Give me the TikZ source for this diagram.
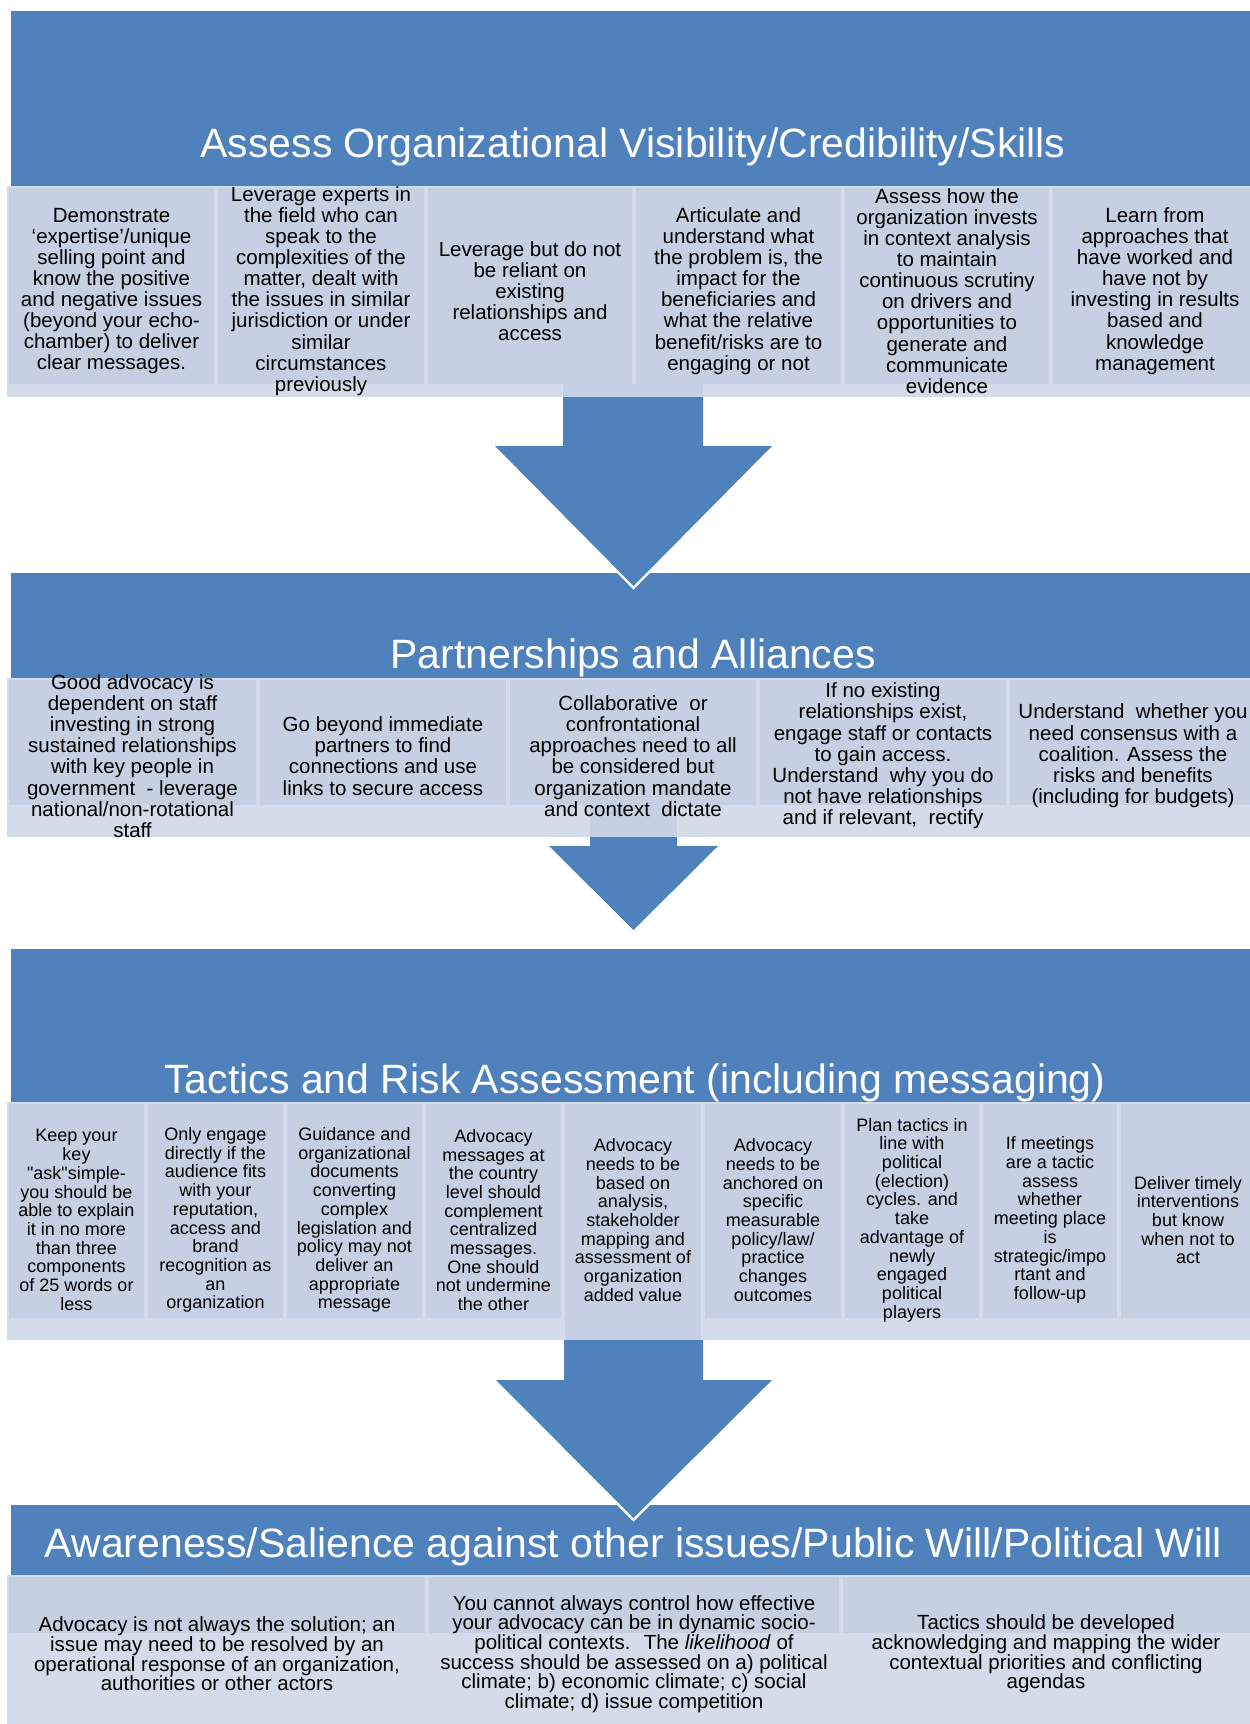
\documentclass[tikz,border=0pt]{standalone}
\usepackage{fontspec}
\setmainfont{Liberation Sans}
\definecolor{hdr}{RGB}{79,129,189}
\definecolor{cellc}{RGB}{197,208,227}
\definecolor{lite}{RGB}{212,219,234}
\begin{document}
\begin{tikzpicture}[x=1pt,y=-1pt,
  titlestyle/.style={text=white, font=\fontsize{41}{44}\selectfont, inner sep=0pt, anchor=base},
  txtA/.style={align=center, font=\fontsize{20.5}{21.1}\selectfont, inner sep=0pt, text=black},
  txtB/.style={align=center, font=\fontsize{20.5}{21.2}\selectfont, inner sep=0pt, text=black},
  txtC/.style={align=center, font=\fontsize{18}{18.7}\selectfont, inner sep=0pt, text=black},
  txtD/.style={align=center, font=\fontsize{20.5}{19.7}\selectfont, inner sep=0pt, text=black},
  arrowfill/.style={fill=hdr},
  arrowedge/.style={draw=white, line width=5pt, line join=miter}]
\useasboundingbox (0,0) rectangle (1250,1724);
\fill[white] (0,0) rectangle (1250,1724);

% ---------- Tier 1 ----------
\fill[hdr] (11,11) rectangle (1250,186);
\fill[lite] (7,186) rectangle (1250,397);
\foreach \l/\r in {7/216,216/426,426/634,634/843,843/1051}
  \fill[cellc] (\l+2,188) rectangle (\r-2,384);
\fill[cellc] (1053,188) rectangle (1250,384);
\fill[cellc] (563,384) rectangle (703,397);
\node[titlestyle] (title1) at (633,157) {Assess Organizational Visibility/Credibility/Skills};
\node[txtA] (a1) at (111.5,291) {Demonstrate\\‘expertise’/unique\\selling point and\\know the positive\\and negative issues\\(beyond your echo-\\chamber) to deliver\\clear messages.};
\node[txtA] (a2) at (321,291) {Leverage experts in\\the field who can\\speak to the\\complexities of the\\matter, dealt with\\the issues in similar\\jurisdiction or under\\similar\\circumstances\\previously};
\node[txtA] (a3) at (530,291) {Leverage but do not\\be reliant on\\existing\\relationships and\\access};
\node[txtA] (a4) at (738.5,291) {Articulate and\\understand what\\the problem is, the\\impact for the\\beneficiaries and\\what the relative\\benefit/risks are to\\engaging or not};
\node[txtA] (a5) at (947,291) {Assess how the\\organization invests\\in context analysis\\to maintain\\continuous scrutiny\\on drivers and\\opportunities to\\generate and\\communicate\\evidence};
\node[txtA] (a6) at (1155,291) {Learn from\\approaches that\\have worked and\\have not by\\investing in results\\based and\\knowledge\\management};

% ---------- Tier 2 ----------
\fill[hdr] (11,573) rectangle (1250,678);
\fill[lite] (7,678) rectangle (1250,837);
\foreach \l/\r in {7/258,258/508,508/758,758/1008}
  \fill[cellc] (\l+2,680) rectangle (\r-2,805);
\fill[cellc] (1010,680) rectangle (1250,805);
\fill[cellc] (590,805) rectangle (677,837);
\node[titlestyle] (title2) at (633,668) {Partnerships and Alliances};
\node[txtB] (b1) at (132.5,756) {Good advocacy is\\dependent on staff\\investing in strong\\sustained relationships\\with key people in\\government~ - leverage\\national/non-rotational\\staff};
\node[txtB] (b2) at (383,756) {Go beyond immediate\\partners to find\\connections and use\\links to secure access};
\node[txtB] (b3) at (633,756) {Collaborative~ or\\confrontational\\approaches need to all\\be considered but\\organization mandate\\and context~ dictate};
\node[txtB] (b4) at (883,756) {If no existing\\relationships exist,\\engage staff or contacts\\to gain access.\\Understand~ why you do\\not have relationships\\and if relevant,~ rectify};
\node[txtB] (b5) at (1133,756) {Understand~ whether you\\need consensus with a\\coalition. Assess the\\risks and benefits\\(including for budgets)};

% ---------- Tier 3 ----------
\fill[hdr] (11,949) rectangle (1250,1102);
\fill[lite] (7,1102) rectangle (1250,1340);
\foreach \l/\r in {7/146,146/285,285/424,424/563,563/703,703/843,843/981,981/1119}
  \fill[cellc] (\l+2,1104) rectangle (\r-2,1318);
\fill[cellc] (1121,1104) rectangle (1250,1318);
\fill[cellc] (565,1318) rectangle (701,1340);
\node[titlestyle] (title3) at (635,1093) {Tactics and Risk Assessment (including messaging)};
\node[txtC] (c1) at (76.5,1220) {Keep your\\key\\\textquotedbl ask\textquotedbl simple-\\you should be\\able to explain\\it in no more\\than three\\components\\of 25 words or\\less};
\node[txtC] (c2) at (215.5,1220) {Only engage\\directly if the\\audience fits\\with your\\reputation,\\access and\\brand\\recognition as\\an\\organization};
\node[txtC] (c3) at (354.5,1220) {Guidance and\\organizational\\documents\\converting\\complex\\legislation and\\policy may not\\deliver an\\appropriate\\message};
\node[txtC] (c4) at (493.5,1220) {Advocacy\\messages at\\the country\\level should\\complement\\centralized\\messages.\\One should\\not undermine\\the other};
\node[txtC] (c5) at (633,1220) {Advocacy\\needs to be\\based on\\analysis,\\stakeholder\\mapping and\\assessment of\\organization\\added value};
\node[txtC] (c6) at (773,1220) {Advocacy\\needs to be\\anchored on\\specific\\measurable\\policy/law/\\practice\\changes\\outcomes};
\node[txtC] (c7) at (912,1220) {Plan tactics in\\line with\\political\\(election)\\cycles. and\\take\\advantage of\\newly\\engaged\\political\\players};
\node[txtC] (c8) at (1050,1220) {If meetings\\are a tactic\\assess\\whether\\meeting place\\is\\strategic/impo\\rtant and\\follow-up};
\node[txtC] (c9) at (1188,1220) {Deliver timely\\interventions\\but know\\when not to\\act};

% ---------- Tier 4 ----------
\fill[hdr] (11,1505) rectangle (1250,1575);
\fill[lite] (7,1575) rectangle (1250,1724);
\foreach \l/\r in {7/427,427/841}
  \fill[cellc] (\l+2,1577) rectangle (\r-2,1633);
\fill[cellc] (843,1577) rectangle (1250,1633);
\node[titlestyle] (title4) at (633.5,1557) {Awareness/Salience against other issues/Public Will/Political Will};
\node[txtD] (d1) at (217,1654) {Advocacy is not always the solution; an\\issue may need to be resolved by an\\operational response of an organization,\\authorities or other actors};
\node[txtD] (d2) at (634,1654) {You cannot always control how effective\\your advocacy can be in dynamic socio-\\political contexts.~ The \textit{likelihood} of\\success should be assessed on a) political\\climate; b) economic climate; c) social\\climate; d) issue competition};
\node[txtD] (d3) at (1046,1654) {Tactics should be developed\\acknowledging and mapping the wider\\contextual priorities and conflicting\\agendas};

% ---------- Arrows ----------
\draw[arrowedge] (563,397) -- (563,446) -- (495,446) -- (633.5,586) -- (772,446) -- (703,446) -- (703,397);
\fill[arrowfill] (563,397) -- (563,446) -- (495,446) -- (633.5,586) -- (772,446) -- (703,446) -- (703,397) -- cycle;

\draw[arrowedge] (590,837) -- (590,846) -- (549,846) -- (633.5,930) -- (718,846) -- (677,846) -- (677,837);
\fill[arrowfill] (590,837) -- (590,846) -- (549,846) -- (633.5,930) -- (718,846) -- (677,846) -- (677,837) -- cycle;

\draw[arrowedge] (564,1340) -- (564,1380) -- (496,1380) -- (633.5,1518) -- (772,1380) -- (703,1380) -- (703,1340);
\fill[arrowfill] (564,1340) -- (564,1380) -- (496,1380) -- (633.5,1518) -- (772,1380) -- (703,1380) -- (703,1340) -- cycle;
\end{tikzpicture}
\end{document}
